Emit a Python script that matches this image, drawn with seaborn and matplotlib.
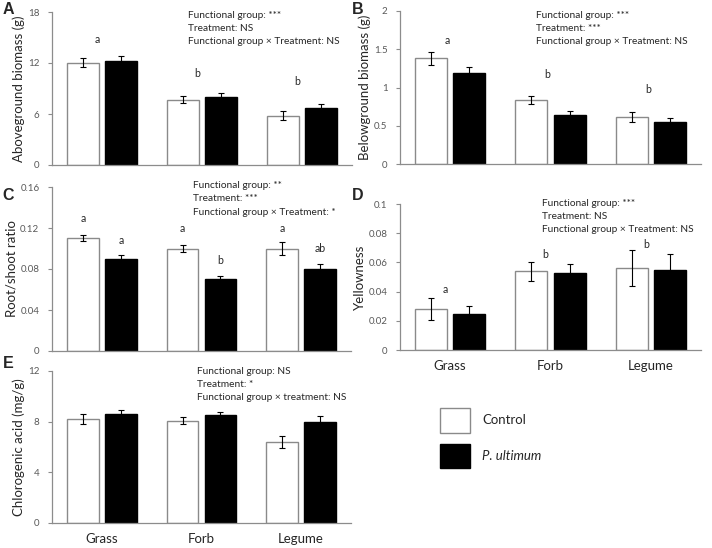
"""
Five-panel bar chart: functional group x P. ultimum treatment (panels A-E).
"""
import numpy as np
import pandas as pd
import matplotlib
matplotlib.use('Agg')
import matplotlib.pyplot as plt
from matplotlib.patches import Rectangle
import seaborn as sns

groups = ['Grass', 'Forb', 'Legume']
treatments = ['Control', 'P. ultimum']

# means and standard errors, in the order Grass, Forb, Legume
above_ctrl = [12.05, 7.70, 5.80]
above_ctrl_se = [0.55, 0.38, 0.55]
above_pu = [12.28, 8.02, 6.73]
above_pu_se = [0.60, 0.42, 0.50]

below_ctrl = [1.38, 0.84, 0.61]
below_ctrl_se = [0.085, 0.05, 0.065]
below_pu = [1.19, 0.64, 0.55]
below_pu_se = [0.08, 0.05, 0.055]

ratio_ctrl = [0.110, 0.100, 0.100]
ratio_ctrl_se = [0.003, 0.003, 0.006]
ratio_pu = [0.090, 0.070, 0.080]
ratio_pu_se = [0.004, 0.003, 0.005]

yellow_ctrl = [0.0281, 0.0538, 0.0560]
yellow_ctrl_se = [0.0078, 0.0068, 0.0124]
yellow_pu = [0.0245, 0.0524, 0.0547]
yellow_pu_se = [0.0055, 0.0064, 0.0110]

chloro_ctrl = [8.24, 8.08, 6.40]
chloro_ctrl_se = [0.40, 0.26, 0.50]
chloro_pu = [8.58, 8.50, 7.95]
chloro_pu_se = [0.38, 0.28, 0.47]

# significance letters (group-level for A, B, D; bar-level for C)
above_letters = ['a', 'b', 'b']
above_letter_y = [14.8, 10.8, 9.8]
below_letters = ['a', 'b', 'b']
below_letter_y = [1.62, 1.17, 0.97]
ratio_letters_ctrl = ['a', 'a', 'a']
ratio_letters_ctrl_y = [0.129, 0.120, 0.120]
ratio_letters_pu = ['a', 'b', 'ab']
ratio_letters_pu_y = [0.108, 0.088, 0.0996]
yellow_letters = ['a', 'b', 'b']
yellow_letter_y = [0.0416, 0.0657, 0.0725]

stats_A = ['Functional group: ***', 'Treatment: NS', 'Functional group × Treatment: NS']
stats_B = ['Functional group: ***', 'Treatment: ***', 'Functional group × Treatment: NS']
stats_C = ['Functional group: **', 'Treatment: ***', 'Functional group × Treatment: *']
stats_D = ['Functional group: ***', 'Treatment: NS', 'Functional group × Treatment: NS']
stats_E = ['Functional group: NS', 'Treatment: *', 'Functional group × treatment: NS']

W, H = 712, 548
FONT = 'Lato'
TICK_C = '#595959'
SPINE_C = '#8c8c8c'
palette = {'Control': 'white', 'P. ultimum': 'black'}

sns.set_style('white')
plt.rcParams['font.family'] = [FONT, 'DejaVu Sans']


def px_axes(fig, left, top, right, bottom):
    return fig.add_axes([left / W, 1 - bottom / H, (right - left) / W, (bottom - top) / H])


def bar_panel(ax, ctrl, ctrl_se, pu, pu_se, yticks, ylabel, show_x=False):
    df = pd.DataFrame({
        'group': groups * 2,
        'treatment': [treatments[0]] * 3 + [treatments[1]] * 3,
        'value': ctrl + pu,
    })
    sns.barplot(data=df, x='group', y='value', hue='treatment', order=groups,
                hue_order=treatments, palette=palette, width=0.76, gap=0.16,
                errorbar=None, legend=False, ax=ax, zorder=2)
    ses = {treatments[0]: ctrl_se, treatments[1]: pu_se}
    for cont, level in zip(ax.containers, treatments):
        for bar, se in zip(cont, ses[level]):
            bar.set_edgecolor('#8a8a8a' if level == 'Control' else 'black')
            bar.set_linewidth(1.0)
            xc = bar.get_x() + bar.get_width() / 2
            ax.errorbar(xc, bar.get_height(), yerr=se, color='black', lw=0.8,
                        capsize=2, capthick=0.8, zorder=3)
    ax.set_xlim(-0.5, 2.5)
    ax.set_ylim(yticks[0], yticks[-1])
    ax.set_yticks(yticks)
    ax.set_yticklabels([f'{t:g}' for t in yticks], fontsize=7, color=TICK_C)
    ax.set_ylabel(ylabel, fontsize=9.5, color='#262626', labelpad=2)
    ax.set_xlabel('')
    if show_x:
        ax.set_xticks(range(3))
        ax.set_xticklabels(groups, fontsize=9.5, color='#262626')
    else:
        ax.set_xticklabels([])
    ax.tick_params(axis='x', length=0, pad=7)
    ax.tick_params(axis='y', length=3, width=0.8, color=SPINE_C, direction='out', left=True, pad=6)
    sns.despine(ax=ax)
    for s in ['left', 'bottom']:
        ax.spines[s].set_color(SPINE_C)
        ax.spines[s].set_linewidth(0.9)


def stats_text(fig, lines, x, y0, dy=13.5):
    for i, line in enumerate(lines):
        fig.text(x / W, 1 - (y0 + i * dy) / H, line, fontsize=7.3, color='#262626',
                 va='center', ha='left')


fig = plt.figure(figsize=(W / 100, H / 100), dpi=100)

# A
axA = px_axes(fig, 52, 12, 352, 165)
bar_panel(axA, above_ctrl, above_ctrl_se, above_pu, above_pu_se,
          [0, 6, 12, 18], 'Aboveground biomass (g)')
for i, (lab, y) in enumerate(zip(above_letters, above_letter_y)):
    axA.text(i - 0.05, y, lab, ha='center', va='center', fontsize=7.6, color='#262626')
stats_text(fig, stats_A, 188, 15)

# B
axB = px_axes(fig, 400, 11, 701, 164)
bar_panel(axB, below_ctrl, below_ctrl_se, below_pu, below_pu_se,
          [0, 0.5, 1, 1.5, 2], 'Belowground biomass (g)')
for i, (lab, y) in enumerate(zip(below_letters, below_letter_y)):
    axB.text(i - 0.03, y, lab, ha='center', va='center', fontsize=7.6, color='#262626')
stats_text(fig, stats_B, 536, 15)

# C
axC = px_axes(fig, 52, 187, 351, 351)
bar_panel(axC, ratio_ctrl, ratio_ctrl_se, ratio_pu, ratio_pu_se,
          [0, 0.04, 0.08, 0.12, 0.16], 'Root/shoot ratio')
for cont, labs, ys in zip(axC.containers, [ratio_letters_ctrl, ratio_letters_pu],
                          [ratio_letters_ctrl_y, ratio_letters_pu_y]):
    for bar, lab, y in zip(cont, labs, ys):
        axC.text(bar.get_x() + bar.get_width() / 2, y, lab, ha='center', va='center',
                 fontsize=7.6, color='#262626')
stats_text(fig, stats_C, 193, 185)

# D
axD = px_axes(fig, 400, 204, 701, 350)
bar_panel(axD, yellow_ctrl, yellow_ctrl_se, yellow_pu, yellow_pu_se,
          [0, 0.02, 0.04, 0.06, 0.08, 0.1], 'Yellowness', show_x=True)
for i, (lab, y) in enumerate(zip(yellow_letters, yellow_letter_y)):
    axD.text(i - 0.05, y, lab, ha='center', va='center', fontsize=7.6, color='#262626')
stats_text(fig, stats_D, 542, 203)

# E
axE = px_axes(fig, 52, 371, 351, 523)
bar_panel(axE, chloro_ctrl, chloro_ctrl_se, chloro_pu, chloro_pu_se,
          [0, 4, 8, 12], 'Chlorogenic acid (mg/g)', show_x=True)
stats_text(fig, stats_E, 197, 372, dy=12.5)

# panel letters
for lab, x, y in [('A', 8, 9), ('B', 358, 9), ('C', 8, 196), ('D', 358, 196), ('E', 8, 363)]:
    fig.text(x / W, 1 - y / H, lab, fontsize=11.5, fontweight='bold',
             family='Liberation Sans', ha='center', va='center')

# legend
handles = [Rectangle((0, 0), 1, 1, facecolor='white', edgecolor='#8a8a8a', lw=1.0),
           Rectangle((0, 0), 1, 1, facecolor='black', edgecolor='black', lw=1.0)]
leg = fig.legend(handles, treatments, loc='upper left',
                 bbox_to_anchor=(428 / W, 1 - 396 / H), frameon=False,
                 handlelength=2.3, handleheight=2.5, labelspacing=0.85,
                 handletextpad=0.9, fontsize=9.5)
leg.get_texts()[1].set_style('italic')

fig.savefig('out.png', dpi=100)
